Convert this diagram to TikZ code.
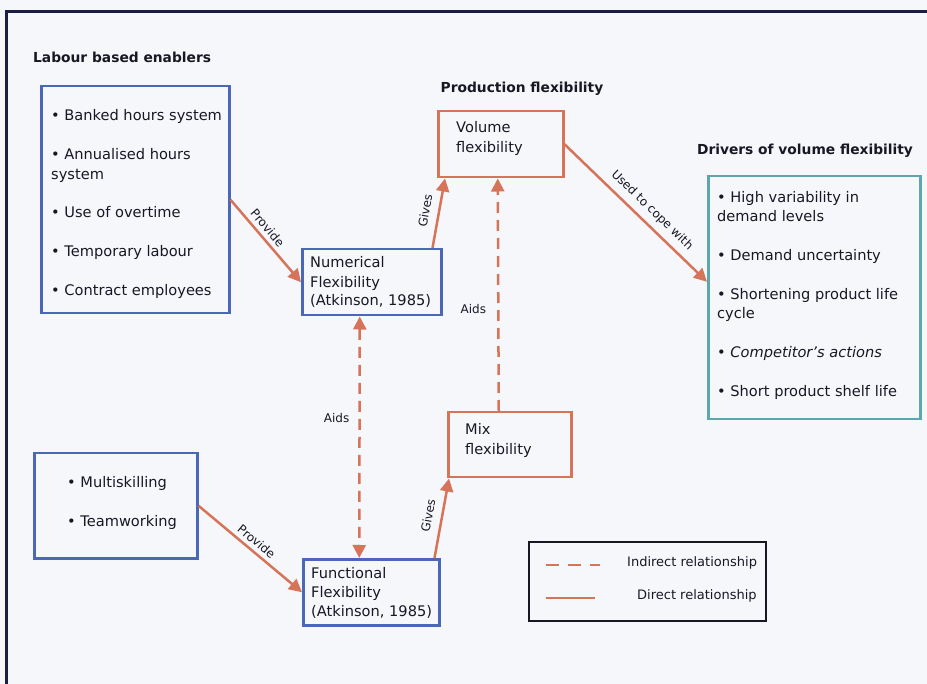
\documentclass[tikz,border=0pt]{standalone}
\usepackage{fontspec}
\setmainfont{DejaVu Sans}
\usetikzlibrary{arrows.meta}

\definecolor{boxblue}{RGB}{74,104,182}
\definecolor{linkred}{RGB}{214,116,90}
\definecolor{drvteal}{RGB}{92,166,174}
\definecolor{framenavy}{RGB}{26,30,66}
\definecolor{paper}{RGB}{246,247,251}
\definecolor{ink}{RGB}{24,24,36}

\tikzset{
  panel/.style={draw=#1, line width=2.5pt, inner sep=0pt, anchor=north west},
  item/.style={anchor=west, inner sep=0pt, text=ink, font=\fontsize{14.6}{17}\selectfont, text height=11pt, text depth=3pt},
  heading/.style={inner sep=0pt, text=ink, font=\bfseries\fontsize{13.8}{16}\selectfont},
  link/.style={draw=linkred, line width=2.5pt, -{Triangle[length=13pt,width=13pt]}},
  aidlink/.style={link, dash pattern=on 11pt off 7pt},
  tag/.style={inner sep=1pt, text=ink, font=\fontsize{12}{14}\selectfont},
  keytext/.style={tag, anchor=west, font=\fontsize{13}{15}\selectfont},
}

% box from its top left corner: name, x, y, width, height, colour
\NewDocumentCommand{\flexbox}{mmmmmO{boxblue}}{%
\node[panel=#6, minimum width=#4pt, minimum height=#5pt] (#1) at (#2,#3) {};%
}

\begin{document}
\begin{tikzpicture}[x=1pt,y=-1pt]
\useasboundingbox[fill=paper] (0,0) rectangle (927,684);
\draw[framenavy, line width=3pt] (6,684) -- (6,12) -- (927,12);

\node[heading, anchor=west] (enabtitle) at (33,57) {Labour based enablers};
\node[heading] (prodtitle) at (522,89) {Production flexibility};
\node[heading] (drvtitle) at (805,151) {Drivers of volume flexibility};

\flexbox{enab}{40}{85}{188}{227}
\flexbox{skill}{33}{452}{163}{105}
\flexbox{num}{301}{248}{139}{66}
\flexbox{fun}{302}{558}{136}{66}
\flexbox{vol}{437}{110}{125}{66}[linkred]
\flexbox{mix}{447}{411}{123}{65}[linkred]
\flexbox{drv}{707}{175}{212}{243}[drvteal]
\node[panel=ink, line width=1.5pt, minimum width=237pt, minimum height=79pt] (legend) at (528,541) {};

% box texts
\foreach \txt/\y [count=\i] in {• Banked hours system/117, • Annualised hours/156, system/176,
    • Use of overtime/214, • Temporary labour/253, • Contract employees/292}
  \node[item] (enab-\i) at (51,\y) {\txt};
\foreach \txt/\y [count=\i] in {• Multiskilling/484, • Teamworking/522}
  \node[item] (skill-\i) at (67,\y) {\txt};
\foreach \txt/\y [count=\i] in {Numerical/264, Flexibility/284, {(Atkinson, 1985)}/302}
  \node[item] (num-\i) at (310,\y) {\txt};
\foreach \txt/\y [count=\i] in {Functional/574, Flexibility/593, {(Atkinson, 1985)}/612}
  \node[item] (fun-\i) at (311,\y) {\txt};
\foreach \txt/\y [count=\i] in {Volume/129, flexibility/149}
  \node[item] (vol-\i) at (456,\y) {\txt};
\foreach \txt/\y [count=\i] in {Mix/431, flexibility/451}
  \node[item] (mix-\i) at (465,\y) {\txt};
\foreach \txt/\y [count=\i] in {• High variability in/199, demand levels/218, • Demand uncertainty/257,
    • Shortening product life/296, cycle/315, • \textit{Competitor’s actions}/354, • Short product shelf life/393}
  \node[item] (drv-\i) at (717,\y) {\txt};

% connectors
\draw[link] (enab.east) -- node[tag, sloped, pos=0.42, above=3pt] {Provide} (num.west);
\draw[link] (skill.east) -- node[tag, sloped, above=3pt] {Provide} (fun.west);
\draw[link] ([xshift=-10pt]num.north east) -- node[tag, sloped, above=7pt] {Gives} ([xshift=8pt]vol.south west);
\draw[link] ([xshift=-6pt]fun.north east) -- node[tag, sloped, above=7pt] {Gives} ([xshift=2pt]mix.south west);
\draw[link] (vol.east) -- node[tag, sloped, pos=0.55, above=5pt] {Used to cope with} ([yshift=16pt]drv.west);
\draw[aidlink, {Triangle[length=13pt,width=13pt]}-{Triangle[length=13pt,width=13pt]}]
  ([xshift=-12pt]num.south) -- node[tag, pos=0.42, left=8pt] {Aids} ([xshift=-12pt]fun.north);
\draw[aidlink] ([xshift=-11pt]mix.north) -- node[tag, pos=0.44, left=10pt] {Aids} ([xshift=-3pt]vol.south);

% legend
\draw[linkred, line width=2.5pt, dash pattern=on 13pt off 9pt] (546,565) -- (600,565);
\draw[linkred, line width=2.5pt] (546,598) -- (595,598);
\node[keytext] (indirect) at (626,563) {Indirect relationship};
\node[keytext] (direct) at (636,596) {Direct relationship};
\end{tikzpicture}
\end{document}
